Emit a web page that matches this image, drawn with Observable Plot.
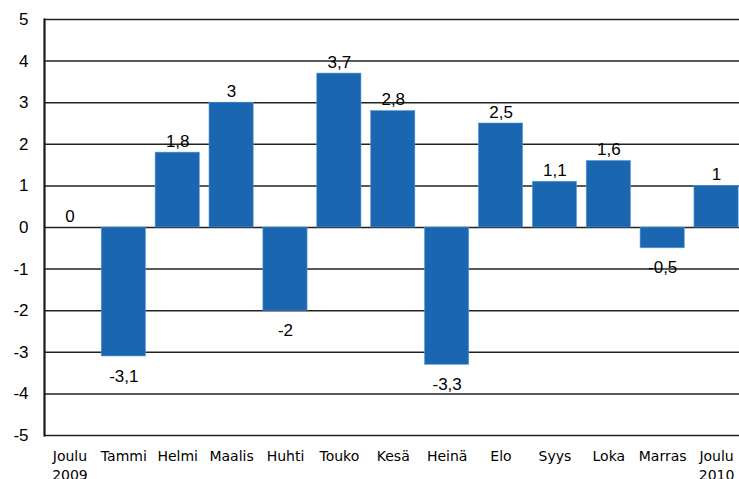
<!DOCTYPE html>
<html>
<head>
<meta charset="utf-8">
<script src="https://cdn.jsdelivr.net/npm/d3@7"></script>
<script src="https://cdn.jsdelivr.net/npm/@observablehq/plot@0.6"></script>
<style>
  html, body { margin: 0; padding: 0; background: #fff; }
  #chart svg { display: block; }
</style>
</head>
<body>
<div id="chart"></div>
<script>
const months = ["Joulu\n2009", "Tammi", "Helmi", "Maalis", "Huhti", "Touko", "Kesä", "Heinä", "Elo", "Syys", "Loka", "Marras", "Joulu\n2010"];
const values = [0, -3.1, 1.8, 3, -2, 3.7, 2.8, -3.3, 2.5, 1.1, 1.6, -0.5, 1];
const yTicks = [-5, -4, -3, -2, -1, 0, 1, 2, 3, 4, 5];

const data = months.map((m, i) => ({month: m, value: values[i], label: String(values[i]).replace(".", ",")}));
const pos = data.filter(d => d.value >= 0);
const neg = data.filter(d => d.value < 0);

const numFont = "'Liberation Sans', Arial, sans-serif";

const chart = Plot.plot({
  width: 739,
  height: 479,
  marginLeft: 44,
  marginRight: 0,
  marginTop: 19,
  marginBottom: 44,
  style: {fontFamily: numFont, fontSize: "17px"},
  x: {domain: months, range: [42.5, 743], paddingInner: 0.18, paddingOuter: 0.09, round: false, label: null},
  y: {domain: [-5, 5], label: null},
  marks: [
    Plot.ruleY(yTicks, {stroke: "#222", strokeWidth: 1.5}),
    Plot.barY(data, {x: "month", y: "value", fill: "#1a66b0", stroke: "#5b9bd8", strokeWidth: 0.6}),
    Plot.frame({anchor: "left", stroke: "rgb(25,25,25)", strokeWidth: 2.2}),
    Plot.text(pos, {x: "month", y: "value", text: "label", lineAnchor: "bottom", dy: -6, fontSize: 17, fill: "#000"}),
    Plot.text(neg, {x: "month", y: "value", text: "label", lineAnchor: "top", dy: 13, fontSize: 17, fill: "#000"}),
    Plot.axisY({ticks: yTicks, tickSize: 0, tickPadding: 16, tickFormat: d => String(d), fontSize: 17, fill: "#000", label: null}),
    Plot.axisX({tickSize: 0, tickPadding: 13, fontSize: 14, fontFamily: "'DejaVu Sans', Verdana, sans-serif", fill: "#000", label: null, lineHeight: 1.3, style: {letterSpacing: "1px"}})
  ]
});
document.getElementById("chart").appendChild(chart);
</script>
</body>
</html>
